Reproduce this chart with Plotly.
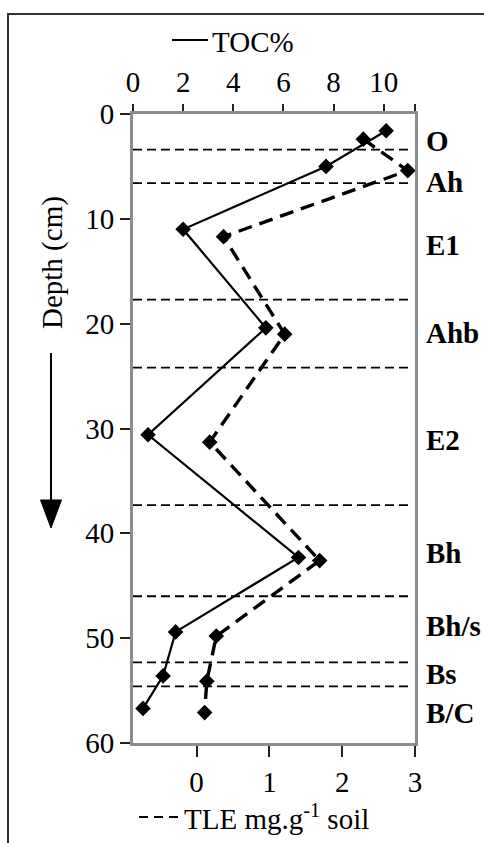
import plotly.graph_objects as go

# Soil profile: total organic carbon (%) and total lipid extract (mg/g soil) vs depth
toc_depth = [1.6, 5.0, 11.0, 20.4, 30.6, 42.3, 49.4, 53.6, 56.7]
toc_pct = [10.1, 7.7, 2.0, 5.3, 0.6, 6.6, 1.7, 1.2, 0.4]

tle_depth = [2.4, 5.4, 11.7, 21.0, 31.3, 42.6, 49.8, 54.1, 57.1]
tle_mg_g = [2.29, 2.90, 0.37, 1.21, 0.18, 1.69, 0.27, 0.14, 0.11]

# Horizon boundaries (cm) and horizon names with the depth at which each is labelled
horizon_bounds = [3.4, 6.6, 17.7, 24.2, 37.3, 46.0, 52.3, 54.6]
horizon_names = ["O", "Ah", "E1", "Ahb", "E2", "Bh", "Bh/s", "Bs", "B/C"]
horizon_label_depth = [2.6, 6.5, 12.5, 20.9, 31.1, 41.9, 48.8, 53.4, 57.1]

depth_ticks = [0, 10, 20, 30, 40, 50, 60]
toc_ticks = [0, 2, 4, 6, 8, 10]
tle_ticks = [0, 1, 2, 3]

W, H = 484, 843
ML, MR, MT, MB = 133, 69, 114, 100
PW, PH = W - ML - MR, H - MT - MB
FONT = "Liberation Serif"
AXIS_GREY = "#8c8c8c"


def px_x(px):
    return (px - ML) / PW


def px_y(py):
    return (H - MB - py) / PH


fig = go.Figure()

fig.add_trace(go.Scatter(
    x=toc_pct, y=toc_depth, xaxis="x2", yaxis="y", mode="lines+markers",
    line=dict(color="black", width=2.2),
    marker=dict(symbol="diamond", size=12, color="black"),
    showlegend=False,
))
fig.add_trace(go.Scatter(
    x=tle_mg_g, y=tle_depth, xaxis="x", yaxis="y", mode="lines+markers",
    line=dict(color="black", width=3.4, dash="14px,8px"),
    marker=dict(symbol="diamond", size=12, color="black"),
    showlegend=False,
))

shapes = []
for d in horizon_bounds:
    shapes.append(dict(
        type="line", xref="paper", yref="y", x0=0, x1=px_x(410), y0=d, y1=d,
        line=dict(color="black", width=1.8, dash="9px,5px"), layer="below",
    ))

# outer frame
shapes.append(dict(
    type="rect", xref="paper", yref="paper",
    x0=px_x(8), x1=px_x(W + 20), y0=px_y(H + 20), y1=px_y(14),
    line=dict(color="#333333", width=2), fillcolor="rgba(0,0,0,0)",
))

# legend keys
shapes.append(dict(
    type="line", xref="paper", yref="paper",
    x0=px_x(172), x1=px_x(208), y0=px_y(40), y1=px_y(40),
    line=dict(color="black", width=2),
))
shapes.append(dict(
    type="line", xref="paper", yref="paper",
    x0=px_x(139), x1=px_x(179), y0=px_y(817), y1=px_y(817),
    line=dict(color="black", width=2, dash="9px,6px"),
))

# depth arrow
shapes.append(dict(
    type="line", xref="paper", yref="paper",
    x0=px_x(51), x1=px_x(51), y0=px_y(353), y1=px_y(505),
    line=dict(color="black", width=2),
))
shapes.append(dict(
    type="path", xref="paper", yref="paper",
    path="M {:.5f},{:.5f} L {:.5f},{:.5f} L {:.5f},{:.5f} Z".format(
        px_x(40.5), px_y(500), px_x(61.5), px_y(500), px_x(51), px_y(528)),
    line=dict(color="black", width=1), fillcolor="black",
))

annotations = []
for name, d in zip(horizon_names, horizon_label_depth):
    annotations.append(dict(
        text="<b>%s</b>" % name, xref="paper", yref="y", x=px_x(424), y=d,
        xanchor="left", yanchor="middle", showarrow=False,
        font=dict(family=FONT, size=29, color="black"),
    ))

annotations.append(dict(
    text="Depth (cm)", xref="paper", yref="paper", x=px_x(52), y=px_y(262),
    textangle=-90, showarrow=False, xanchor="center", yanchor="middle",
    font=dict(family=FONT, size=29, color="black"),
))
annotations.append(dict(
    text="TOC%", xref="paper", yref="paper", x=px_x(210), y=px_y(42),
    xanchor="left", yanchor="middle", showarrow=False,
    font=dict(family=FONT, size=29, color="black"),
))
annotations.append(dict(
    text="TLE mg.g<sup>-1</sup> soil", xref="paper", yref="paper",
    x=px_x(182), y=px_y(817), xanchor="left", yanchor="middle", showarrow=False,
    font=dict(family=FONT, size=29, color="black"),
))

tick_font = dict(family=FONT, size=29, color="black")

fig.update_layout(
    width=W, height=H,
    margin=dict(l=ML, r=MR, t=MT, b=MB, pad=0),
    paper_bgcolor="white", plot_bgcolor="white",
    showlegend=False,
    font=dict(family=FONT, size=29, color="black"),
    xaxis=dict(
        range=[-0.874, 3.0], tickvals=tle_ticks, ticks="outside", ticklen=11,
        tickwidth=1.5, tickcolor="#222222", showgrid=False, zeroline=False,
        showline=True, linecolor=AXIS_GREY, linewidth=3, tickfont=tick_font,
        side="bottom",
    ),
    xaxis2=dict(
        range=[0, 11.25], tickvals=toc_ticks + [11.24],
        ticktext=[str(t) for t in toc_ticks] + [""],
        ticks="outside", ticklen=7, tickwidth=1.5, tickcolor="#222222",
        showgrid=False, zeroline=False, showline=True, linecolor=AXIS_GREY,
        linewidth=3, tickfont=tick_font, side="top", overlaying="x",
        anchor="y",
    ),
    yaxis=dict(
        range=[60, 0], tickvals=depth_ticks, ticks="outside", ticklen=10,
        tickwidth=1.5, tickcolor="#222222", showgrid=False, zeroline=False,
        showline=True, linecolor=AXIS_GREY, linewidth=3, mirror=True,
        tickfont=tick_font,
    ),
    shapes=shapes,
    annotations=annotations,
)

fig.write_html("out.html")
